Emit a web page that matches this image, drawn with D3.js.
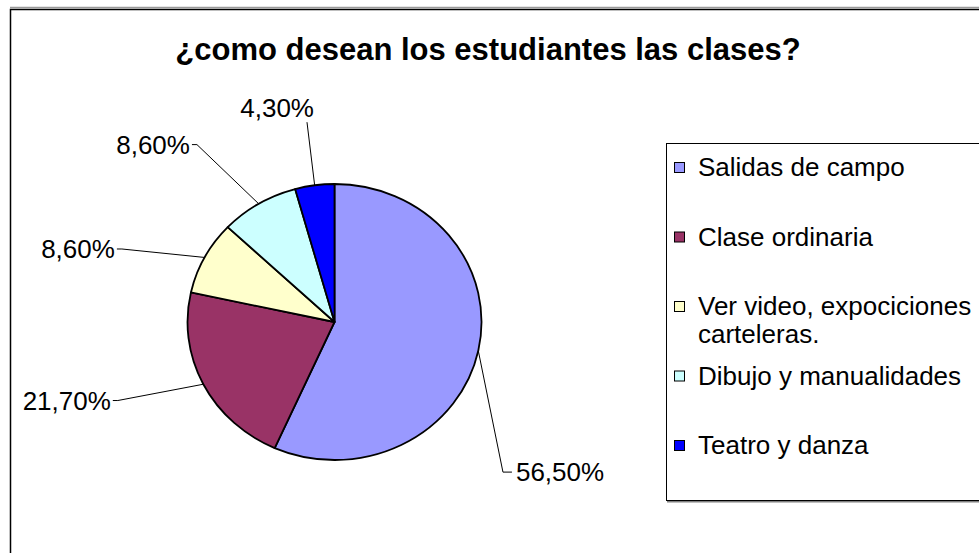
<!DOCTYPE html>
<html>
<head>
<meta charset="utf-8">
<script src="https://cdn.jsdelivr.net/npm/d3@7"></script>
<style>
  body { margin: 0; background: #fff; }
  svg { display: block; }
</style>
</head>
<body>
<div id="drawPie"></div>
<script>
// data
var categories = ["Salidas de campo", "Clase ordinaria", "Ver video, expociciones carteleras.", "Dibujo y manualidades", "Teatro y danza"];
var legendLines = [["Salidas de campo"], ["Clase ordinaria"], ["Ver video, expociciones", "carteleras."], ["Dibujo y manualidades"], ["Teatro y danza"]];
var values = [56.5, 21.7, 8.6, 8.6, 4.3];
var valueLabels = ["56,50%", "21,70%", "8,60%", "8,60%", "4,30%"];
var colors = ["#9999FF", "#993366", "#FFFFCC", "#CCFFFF", "#0000FF"];

// label placement (degrees moved from slice middle, distance factor, side)
var labelShift = [31.5, 5.7, -7.8, -5, 0.4];
var labelDist = [1.58, 1.58, 1.54, 1.59, 1.46];
var labelSide = ["right", "left", "left", "left", "top"];

var width = 979, height = 553;
var cx = 334.5, cy = 322, rx = 147, ry = 138;
var font = "'Liberation Sans', Arial, sans-serif";

var svg = d3.select("#drawPie")
  .append("svg")
  .attr("width", width)
  .attr("height", height);

// chart frame
svg.append("line")
  .attr("x1", 10).attr("y1", 7.5).attr("x2", width).attr("y2", 7.5)
  .attr("stroke", "#9a9a9a").attr("stroke-width", 1.5);
svg.append("rect")
  .attr("x", 10.5).attr("y", 9.5)
  .attr("width", width).attr("height", height)
  .attr("fill", "none").attr("stroke", "#000").attr("stroke-width", 1.5);

// title
svg.append("text")
  .attr("x", 488).attr("y", 60)
  .attr("text-anchor", "middle")
  .attr("font-family", font)
  .attr("font-weight", "bold")
  .attr("font-size", "31px")
  .text("¿como desean los estudiantes las clases?");

// pie
var pie = d3.pie().sort(null).value(function(d) { return d; });
var arcs = pie(values);
var arc = d3.arc().innerRadius(0).outerRadius(ry);

var pieG = svg.append("g")
  .attr("transform", "translate(" + cx + "," + cy + ") scale(" + (rx / ry) + ",1)");

pieG.selectAll("path")
  .data(arcs)
  .enter()
  .append("path")
  .attr("d", arc)
  .attr("fill", function(d, i) { return colors[i]; })
  .attr("stroke", "#000")
  .attr("stroke-width", 1.8)
  .attr("stroke-linejoin", "round")
  .attr("vector-effect", "non-scaling-stroke");

// point on the ellipse for an angle (clockwise from top)
function pt(a, k) {
  return [cx + rx * k * Math.sin(a), cy - ry * k * Math.cos(a)];
}

// leader lines and labels
arcs.forEach(function(d, i) {
  var mid = (d.startAngle + d.endAngle) / 2;
  var p0 = pt(mid, 1);
  var p1 = pt(mid + labelShift[i] * Math.PI / 180, labelDist[i]);
  var side = labelSide[i];
  var pts = [p0, p1];
  var tx, ty, anchor;
  if (side == "right") {
    pts.push([p1[0] + 9, p1[1]]);
    tx = p1[0] + 13; ty = p1[1]; anchor = "start";
  } else if (side == "left") {
    pts.push([p1[0] - 5, p1[1]]);
    tx = p1[0] - 7; ty = p1[1]; anchor = "end";
  } else {
    tx = p1[0] + 7; ty = p1[1] - 15; anchor = "end";
  }
  svg.append("path")
    .attr("d", d3.line()(pts))
    .attr("fill", "none")
    .attr("stroke", "#000")
    .attr("stroke-width", 1);
  svg.append("text")
    .attr("x", tx).attr("y", ty)
    .attr("dy", "0.36em")
    .attr("text-anchor", anchor)
    .attr("font-family", font)
    .attr("font-size", "26px")
    .text(valueLabels[i]);
});

// legend
var legend = svg.append("g");
legend.append("line")
  .attr("x1", 667).attr("y1", 501.5).attr("x2", width).attr("y2", 501.5)
  .attr("stroke", "#808080").attr("stroke-width", 2);
legend.append("rect")
  .attr("x", 666.5).attr("y", 143.5)
  .attr("width", 400).attr("height", 357)
  .attr("fill", "#fff").attr("stroke", "#000").attr("stroke-width", 1);

var ly = d3.scaleLinear().domain([0, categories.length - 1]).range([167, 445]);

var item = legend.selectAll("g.item")
  .data(categories)
  .enter()
  .append("g")
  .attr("class", "item")
  .attr("transform", function(d, i) { return "translate(0," + ly(i) + ")"; });

item.append("rect")
  .attr("x", 674.5).attr("y", -4.5)
  .attr("width", 10).attr("height", 10)
  .attr("fill", function(d, i) { return colors[i]; })
  .attr("stroke", "#000").attr("stroke-width", 1);

item.each(function(d, i) {
  d3.select(this).selectAll("text")
    .data(legendLines[i])
    .enter()
    .append("text")
    .attr("x", 698)
    .attr("y", function(t, j) { return j * 28; })
    .attr("dy", "0.36em")
    .attr("font-family", font)
    .attr("font-size", "26px")
    .text(function(t) { return t; });
});
</script>
</body>
</html>
